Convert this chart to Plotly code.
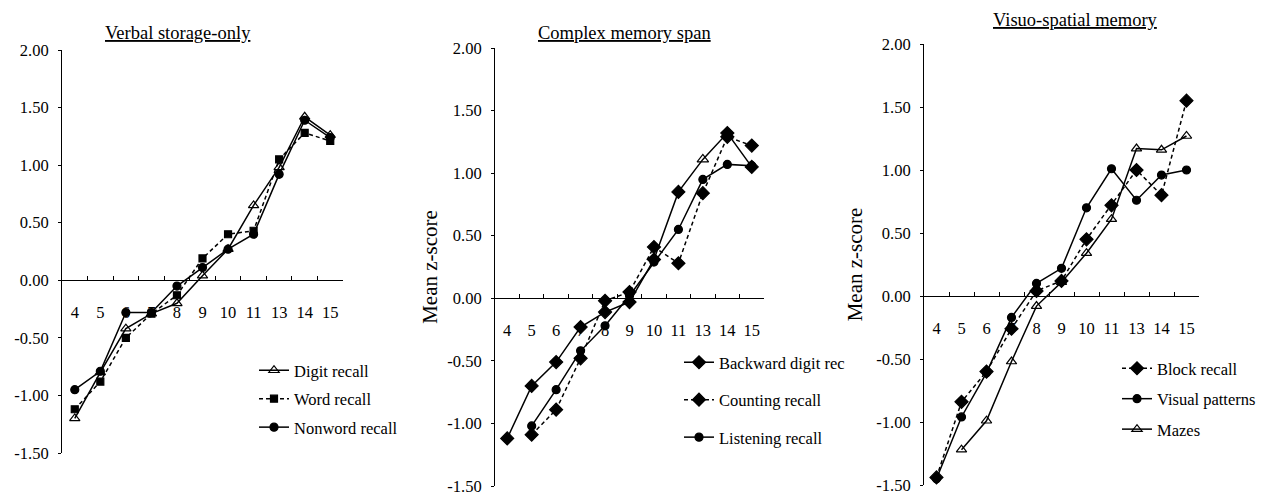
import plotly.graph_objects as go

# ---------------- data ----------------
ages = ["4", "5", "6", "7", "8", "9", "10", "11", "13", "14", "15"]
y_tick_vals = [2.0, 1.5, 1.0, 0.5, 0.0, -0.5, -1.0, -1.5]
y_tick_text = ["2.00", "1.50", "1.00", "0.50", "0.00", "-0.50", "-1.00", "-1.50"]

panel_titles = ["Verbal storage-only", "Complex memory span", "Visuo-spatial memory"]
y_title = "Mean z-score"

# Verbal storage-only
digit_recall = [-1.20, -0.80, -0.42, -0.29, -0.20, 0.04, 0.27, 0.65, 0.98, 1.42, 1.26]
word_recall = [-1.12, -0.88, -0.50, -0.29, -0.13, 0.19, 0.40, 0.43, 1.05, 1.28, 1.21]
nonword_recall = [-0.95, -0.79, -0.28, -0.28, -0.05, 0.11, 0.27, 0.40, 0.92, 1.39, 1.24]

# Complex memory span
backward_digit = [-1.12, -0.70, -0.51, -0.23, -0.11, -0.03, 0.31, 0.85, 1.11, 1.32, 1.05]
counting_recall = [None, -1.09, -0.89, -0.48, -0.02, 0.05, 0.41, 0.28, 0.84, 1.29, 1.22]
listening_recall = [None, -1.02, -0.73, -0.42, -0.22, 0.02, 0.29, 0.55, 0.95, 1.07, 1.06]

# Visuo-spatial memory
block_recall = [-1.44, -0.84, -0.60, -0.26, 0.04, 0.12, 0.45, 0.72, 1.00, 0.80, 1.55]
visual_patterns = [-1.45, -0.96, -0.61, -0.17, 0.10, 0.22, 0.70, 1.01, 0.76, 0.96, 1.00]
mazes = [None, -1.22, -0.99, -0.52, -0.08, 0.11, 0.34, 0.61, 1.17, 1.16, 1.27]

# ---------------- layout geometry (pixels) ----------------
W, H = 1272, 496
FONT = '"Liberation Serif", "Times New Roman", Times, serif'

# x pixel domain, y pixel of +2.00, y pixel of -1.50, y-title standoff
panels = [
    dict(x0=62, x1=343, ytop=50, ybot=453, standoff=0),
    dict(x0=495, x1=764, ytop=48, ybot=486, standoff=3),
    dict(x0=924, x1=1199, ytop=44, ybot=485, standoff=7),
]

fig = go.Figure()


def add(panel, name, values, symbol, dash, legend, size=8):
    sfx = "" if panel == 1 else str(panel)
    fig.add_trace(go.Scatter(
        x=ages, y=values, name=name, mode="lines+markers",
        xaxis="x" + sfx, yaxis="y" + sfx,
        line=dict(color="black", width=1.5, dash=dash),
        marker=dict(symbol=symbol, size=size, color="black",
                    line=dict(color="black", width=1.2)),
        legend=legend, legendgroup=name,
        connectgaps=False,
    ))


DASH = "4px,3px"
add(1, "Digit recall", digit_recall, "triangle-up-open", "solid", "legend", 9)
add(1, "Word recall", word_recall, "square", DASH, "legend", 7)
add(1, "Nonword recall", nonword_recall, "circle", "solid", "legend", 8)

bd_symbols = ["diamond"] * len(ages)
bd_symbols[ages.index("13")] = "triangle-up-open"
add(2, "Backward digit rec", backward_digit, bd_symbols, "solid", "legend2", 10)
add(2, "Counting recall", counting_recall, "diamond", DASH, "legend2", 10)
add(2, "Listening recall", listening_recall, "circle", "solid", "legend2", 8)

add(3, "Block recall", block_recall, "diamond", DASH, "legend3", 10)
add(3, "Visual patterns", visual_patterns, "circle", "solid", "legend3", 8)
add(3, "Mazes", mazes, "triangle-up-open", "solid", "legend3", 9)

layout = dict(
    width=W, height=H,
    margin=dict(l=0, r=0, t=0, b=0, autoexpand=False),
    paper_bgcolor="white", plot_bgcolor="white",
    font=dict(family=FONT, size=16, color="black"),
    showlegend=True,
)

annotations = []
title_pos = [(178, 33), (624, 33), (1075, 20)]

for i, p in enumerate(panels, start=1):
    sfx = "" if i == 1 else str(i)
    xd = [p["x0"] / W, p["x1"] / W]
    yd = [(H - p["ybot"]) / H, (H - p["ytop"]) / H]
    y0pix = p["ytop"] + (p["ybot"] - p["ytop"]) * (2.0 / 3.5)
    layout["xaxis" + sfx] = dict(
        domain=xd, type="category", range=[-0.5, 10.5],
        anchor="free", position=(H - y0pix) / H,
        showline=True, linecolor="black", linewidth=1.2,
        ticks="inside", ticklen=4, tickcolor="black", tickwidth=1,
        tickson="boundaries", tickangle=0,
        showgrid=False, zeroline=False,
        ticklabelstandoff=17,
        tickfont=dict(family=FONT, size=16.5),
        automargin=False,
        fixedrange=True,
    )
    ya = dict(
        domain=yd, range=[-1.5, 2.0], anchor="x" + sfx,
        tickvals=y_tick_vals, ticktext=y_tick_text,
        showline=True, linecolor="black", linewidth=1,
        ticks="outside", ticklen=3, tickcolor="black",
        showgrid=False, zeroline=False,
        ticklabelstandoff=6,
        ticklabeloverflow="allow",
        tickfont=dict(family=FONT, size=16.5),
        automargin=False,
        fixedrange=True,
    )
    if i > 1:
        ya["title"] = dict(text=y_title, font=dict(family=FONT, size=21),
                           standoff=p["standoff"])
    layout["yaxis" + sfx] = ya
    tx, ty = title_pos[i - 1]
    annotations.append(dict(
        text="<u>" + panel_titles[i - 1] + "</u>", xref="paper", yref="paper",
        x=tx / W, y=(H - ty) / H, xanchor="center", yanchor="middle",
        showarrow=False, font=dict(family=FONT, size=18.5),
    ))

layout["annotations"] = annotations

leg_common = dict(xanchor="left", yanchor="top", bgcolor="rgba(0,0,0,0)",
                  font=dict(family=FONT, size=16.5), traceorder="grouped")
layout["legend"] = dict(leg_common, x=254 / W, y=(H - 353) / H, tracegroupgap=4)
layout["legend2"] = dict(leg_common, x=679 / W, y=(H - 345) / H, tracegroupgap=13)
layout["legend3"] = dict(leg_common, x=1117 / W, y=(H - 351) / H, tracegroupgap=6)

fig.update_layout(**layout)
fig.write_html(
    "out.html",
    config={"displayModeBar": False, "staticPlot": False},
    post_script="document.body.style.margin='0';document.body.style.overflow='hidden';",
)
